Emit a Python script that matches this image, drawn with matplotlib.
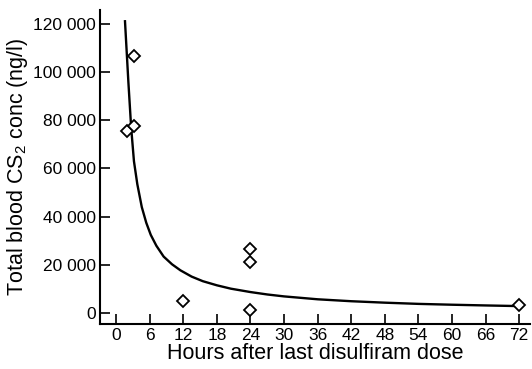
import matplotlib
matplotlib.use("Agg")
import matplotlib.pyplot as plt

plt.rcParams['font.family'] = ['Liberation Sans', 'DejaVu Sans']
plt.rcParams['mathtext.default'] = 'regular'

# Measured points (hours, ng/l)
horas = [1.9, 3.2, 3.2, 12, 24, 24, 24, 72]
conc = [75500, 77600, 106700, 5200, 26600, 21400, 1400, 3400]

# Fitted curve
curva_x = [1.6, 2.2, 2.7, 3.2, 3.8, 4.6, 5.4, 6.2, 7.2, 8.5, 10, 11.5, 13.5,
           15.5, 18, 20.5, 24, 27, 30, 36, 42, 48, 54, 60, 66, 71.5]
curva_y = [121000, 96000, 77000, 63000, 53500, 44000, 37500, 32500, 28000,
           23500, 20300, 17800, 15200, 13300, 11600, 10200, 8800, 7800, 7000,
           5800, 5000, 4400, 3900, 3550, 3250, 3000]

xticks = list(range(0, 73, 6))
yticks = [0, 20000, 40000, 60000, 80000, 100000, 120000]
ytick_labels = ["0", "20 000", "40 000", "60 000", "80 000", "100 000", "120 000"]

fig = plt.figure(figsize=(5.32, 3.69), dpi=100)
ax = fig.add_axes([0.188, 0.122, 0.808, 0.851])

ax.plot(curva_x, curva_y, color='black', lw=1.7, zorder=2)
ax.plot(horas, conc, linestyle='none', marker='D', ms=6.5, mfc='white',
        mec='black', mew=1.3, zorder=3)

ax.set_xlim(-2.86, 73.9)
ax.set_ylim(-4430, 125680)
ax.set_xticks(xticks)
ax.set_yticks(yticks)
ax.set_yticklabels(ytick_labels)

for s in ['top', 'right']:
    ax.spines[s].set_visible(False)
for s in ['left', 'bottom']:
    ax.spines[s].set_linewidth(1.5)
ax.tick_params(direction='in', length=7, width=1.2, labelsize=12.5, pad=3)

ax.set_xlabel("Hours after last disulfiram dose", fontsize=15.5, labelpad=0)
ax.set_ylabel(r"Total blood CS$_2$ conc (ng/l)", fontsize=15.5, labelpad=2)

fig.savefig("out.png", dpi=100)
